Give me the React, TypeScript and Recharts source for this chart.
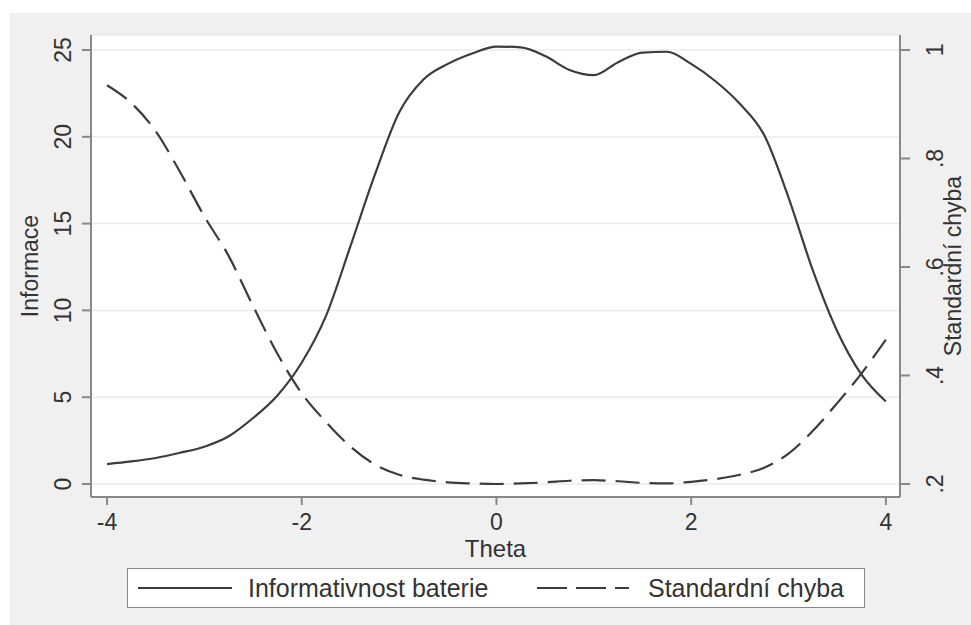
import React from 'react'
import { LineChart, Line, XAxis, YAxis, CartesianGrid, Legend } from 'recharts'

const theta = [
  -4, -3.75, -3.5, -3.25, -3, -2.75, -2.5, -2.25, -2, -1.75, -1.5, -1.25, -1, -0.75, -0.5, -0.25,
  0, 0.25, 0.5, 0.75, 1, 1.25, 1.5, 1.75, 2, 2.25, 2.5, 2.75, 3, 3.25, 3.5, 3.75, 4,
]
const informativnost = [
  1.15, 1.3, 1.5, 1.8, 2.15, 2.75, 3.8, 5.1, 7.0, 9.7, 13.7, 17.8, 21.4, 23.3, 24.2, 24.8,
  25.2, 25.15, 24.65, 23.85, 23.55, 24.3, 24.85, 24.9, 24.2, 23.2, 21.9, 20.1, 16.5, 12.3, 8.8, 6.3, 4.75,
]
const standardniChyba = [
  0.935, 0.902, 0.85, 0.775, 0.693, 0.62, 0.528, 0.44, 0.367, 0.314, 0.269, 0.236, 0.217, 0.208, 0.203, 0.201,
  0.2, 0.201, 0.203, 0.206, 0.207, 0.205, 0.202, 0.201, 0.204, 0.209, 0.217, 0.23, 0.256, 0.298, 0.349, 0.404, 0.466,
]
const xTicks = [-4, -2, 0, 2, 4]
const leftTicks = [0, 5, 10, 15, 20, 25]
const rightTicks = [0.2, 0.4, 0.6, 0.8, 1]

const data = theta.map((t, i) => ({ theta: t, info: informativnost[i], se: standardniChyba[i] }))

const FONT = '"Liberation Sans", Arial, sans-serif'
const TEXT = '#333'
const AXIS = '#888'
const LINE = '#3c3c3c'

const fmtRight = (v: number) => (v === 1 ? '1' : String(+v.toFixed(1)).replace('0.', '.'))

const LeftTick = ({ x, y, payload }: any) => (
  <text transform={`translate(${x - 11},${y}) rotate(-90)`} textAnchor="middle" fontSize={23} fill={TEXT} fontFamily={FONT}>
    {payload.value}
  </text>
)

const RightTick = ({ x, y, payload }: any) => (
  <text transform={`translate(${x + 33},${y}) rotate(-90)`} textAnchor="middle" fontSize={23} fill={TEXT} fontFamily={FONT}>
    {fmtRight(payload.value)}
  </text>
)

const BottomTick = ({ x, y, payload }: any) => (
  <text x={x} y={y + 25} textAnchor="middle" fontSize={23} fill={TEXT} fontFamily={FONT}>
    {payload.value}
  </text>
)

const XTitle = ({ viewBox }: any) => (
  <text x={viewBox.x + viewBox.width / 2} y={viewBox.y + 60} textAnchor="middle" fontSize={24} fill={TEXT} fontFamily={FONT}>
    Theta
  </text>
)

const LeftTitle = ({ viewBox }: any) => (
  <text transform={`translate(${viewBox.x + 27},${viewBox.y + viewBox.height / 2}) rotate(-90)`} textAnchor="middle" fontSize={23} fill={TEXT} fontFamily={FONT}>
    Informace
  </text>
)

const RightTitle = ({ viewBox }: any) => (
  <text transform={`translate(${viewBox.x + 61},${viewBox.y + viewBox.height / 2}) rotate(-90)`} textAnchor="middle" fontSize={23} fill={TEXT} fontFamily={FONT}>
    Standardní chyba
  </text>
)

const LegendBox = () => (
  <div
    style={{
      position: 'relative',
      width: 738,
      height: 40,
      boxSizing: 'border-box',
      border: `1.5px solid ${AXIS}`,
      background: '#fff',
      fontFamily: FONT,
      fontSize: 25,
      color: TEXT,
    }}
  >
    <svg width={738} height={40} style={{ position: 'absolute', left: 0, top: 0 }}>
      <line x1={10} x2={104} y1={19} y2={19} stroke={LINE} strokeWidth={2} />
      <line x1={409} x2={501} y1={19} y2={19} stroke={LINE} strokeWidth={2} strokeDasharray="30 9" />
    </svg>
    <span style={{ position: 'absolute', left: 120, top: 4, lineHeight: '30px' }}>Informativnost baterie</span>
    <span style={{ position: 'absolute', left: 520, top: 4, lineHeight: '30px' }}>Standardní chyba</span>
  </div>
)

export default function App() {
  return (
    <div style={{ position: 'absolute', left: 0, top: 0, width: 971, height: 625, background: '#fff', overflow: 'hidden' }}>
      <div style={{ position: 'absolute', left: 10, top: 13, right: 0, bottom: 0, background: '#f0f0f0' }} />
      <div style={{ position: 'absolute', left: 0, top: 0 }}>
        <LineChart width={971} height={625} data={data} margin={{ top: 35, right: 11, bottom: 68, left: 11 }}>
          <CartesianGrid yAxisId="left" horizontal vertical={false} fill="#fff" stroke="#ebebeb" strokeWidth={1.5} />
          <XAxis
            dataKey="theta"
            type="number"
            domain={[-4.165, 4.145]}
            ticks={xTicks}
            allowDataOverflow
            height={60}
            tickSize={8}
            tickMargin={0}
            stroke={AXIS}
            strokeWidth={2}
            tick={<BottomTick />}
            label={<XTitle />}
          />
          <YAxis
            yAxisId="left"
            orientation="left"
            domain={[-0.749, 25.864]}
            ticks={leftTicks}
            allowDataOverflow
            width={80}
            tickSize={9}
            tickMargin={0}
            stroke={AXIS}
            strokeWidth={2}
            tick={<LeftTick />}
            label={<LeftTitle />}
          />
          <YAxis
            yAxisId="right"
            orientation="right"
            domain={[0.176, 1.0276]}
            ticks={rightTicks}
            allowDataOverflow
            width={60}
            tickSize={10}
            tickMargin={0}
            stroke={AXIS}
            strokeWidth={2}
            tick={<RightTick />}
            label={<RightTitle />}
          />
          <Line yAxisId="left" type="monotone" dataKey="info" stroke={LINE} strokeWidth={2.2} dot={false} isAnimationActive={false} />
          <Line yAxisId="right" type="monotone" dataKey="se" stroke={LINE} strokeWidth={2.2} strokeDasharray="24 10" dot={false} isAnimationActive={false} />
          <Legend
            layout="horizontal"
            verticalAlign="middle"
            align="center"
            wrapperStyle={{ left: 127, top: 568, width: 738, height: 40 }}
            content={() => <LegendBox />}
          />
        </LineChart>
      </div>
    </div>
  )
}
